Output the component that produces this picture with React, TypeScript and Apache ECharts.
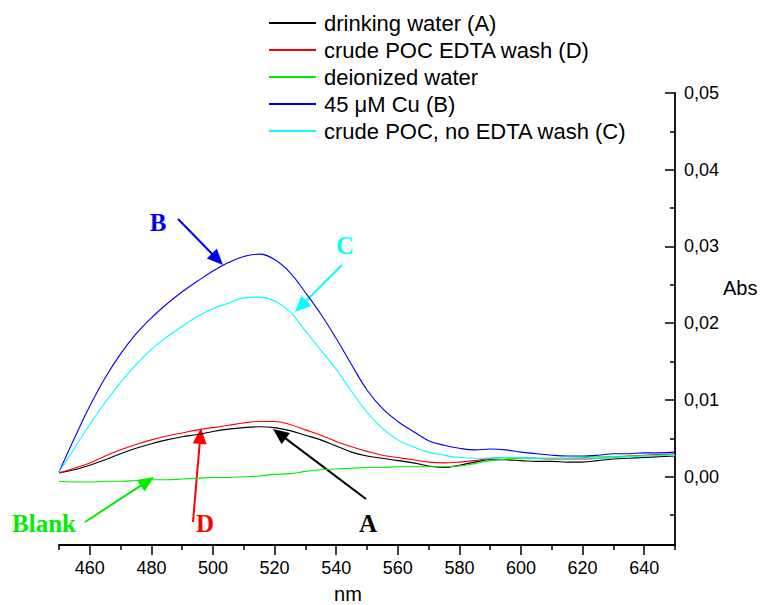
import React, { useEffect, useRef } from "react";
import * as echarts from "echarts";

const wavelengths = [450, 455, 460, 465, 470, 475, 480, 485, 490, 495, 500, 505, 510, 515, 520, 525, 530, 535, 540, 545, 550, 555, 560, 565, 570, 575, 580, 585, 590, 595, 600, 605, 610, 615, 620, 625, 630, 635, 640, 645, 650];

const drinkingA = [0.0005, 0.0009, 0.0015, 0.0022, 0.0030, 0.0037, 0.0043, 0.0048, 0.0052, 0.0055, 0.0059, 0.0062, 0.0064, 0.0065, 0.0064, 0.0060, 0.0054, 0.0048, 0.0040, 0.0032, 0.0027, 0.0024, 0.0021, 0.0018, 0.0014, 0.0012, 0.0015, 0.0019, 0.0022, 0.0022, 0.0021, 0.0020, 0.0020, 0.0019, 0.0019, 0.0021, 0.0023, 0.0024, 0.0025, 0.0026, 0.0027];

const edtaD = [0.0005, 0.0011, 0.0018, 0.0027, 0.0035, 0.0042, 0.0048, 0.0053, 0.0057, 0.0061, 0.0064, 0.0067, 0.0070, 0.0072, 0.0072, 0.0068, 0.0061, 0.0054, 0.0046, 0.0039, 0.0033, 0.0028, 0.0025, 0.0022, 0.0019, 0.0018, 0.0019, 0.0021, 0.0024, 0.0025, 0.0025, 0.0024, 0.0023, 0.0023, 0.0023, 0.0024, 0.0025, 0.0027, 0.0028, 0.0029, 0.0030];

const deionized = [-0.0006, -0.0007, -0.0007, -0.0006, -0.0006, -0.0005, -0.0004, -0.0004, -0.0003, -0.0002, -0.0001, -0.0001, 0.0000, 0.0001, 0.0003, 0.0004, 0.0007, 0.0009, 0.0010, 0.0011, 0.0012, 0.0012, 0.0013, 0.0013, 0.0013, 0.0013, 0.0014, 0.0017, 0.0021, 0.0023, 0.0024, 0.0024, 0.0024, 0.0024, 0.0025, 0.0026, 0.0026, 0.0027, 0.0027, 0.0028, 0.0028];

const copperB = [0.0006, 0.0050, 0.0092, 0.0129, 0.0160, 0.0186, 0.0207, 0.0225, 0.0241, 0.0255, 0.0268, 0.0279, 0.0287, 0.0290, 0.0283, 0.0266, 0.0240, 0.0212, 0.0180, 0.0146, 0.0113, 0.0089, 0.0072, 0.0059, 0.0047, 0.0041, 0.0037, 0.0035, 0.0036, 0.0035, 0.0032, 0.0030, 0.0028, 0.0027, 0.0027, 0.0028, 0.0030, 0.0030, 0.0031, 0.0031, 0.0032];

const noEdtaC = [0.0006, 0.0037, 0.0068, 0.0097, 0.0123, 0.0146, 0.0166, 0.0182, 0.0196, 0.0209, 0.0219, 0.0226, 0.0233, 0.0234, 0.0229, 0.0215, 0.0190, 0.0165, 0.0140, 0.0111, 0.0084, 0.0063, 0.0048, 0.0039, 0.0032, 0.0028, 0.0025, 0.0024, 0.0024, 0.0025, 0.0025, 0.0024, 0.0024, 0.0024, 0.0024, 0.0024, 0.0025, 0.0026, 0.0027, 0.0028, 0.0028];

const seriesNames = ["drinking water (A)", "crude POC EDTA wash (D)", "deionized water", "45 \u03bcM Cu (B)", "crude POC, no EDTA wash (C)"];
const seriesValues = [drinkingA, edtaD, deionized, copperB, noEdtaC];
const seriesColors = ["#000000", "#ff0000", "#00ee00", "#0000ee", "#00ffff"];

const xMajorTicks = [460, 480, 500, 520, 540, 560, 580, 600, 620, 640];
const xMinorTicks = [450, 470, 490, 510, 530, 550, 570, 590, 610, 630, 650];
const yMajorTicks = [0, 0.01, 0.02, 0.03, 0.04, 0.05];
const yMinorTicks = [-0.005, 0.005, 0.015, 0.025, 0.035, 0.045];

const SANS = "Liberation Sans, Arial, sans-serif";
const SERIF = "Liberation Serif, Times New Roman, serif";

function arrow(x1: number, y1: number, x2: number, y2: number, color: string) {
  const L = 16;
  const W = 14;
  const dx = x2 - x1;
  const dy = y2 - y1;
  const len = Math.sqrt(dx * dx + dy * dy);
  const ux = dx / len;
  const uy = dy / len;
  const bx = x2 - ux * L;
  const by = y2 - uy * L;
  const px = -uy;
  const py = ux;
  return [
    {
      type: "line",
      shape: { x1, y1, x2: bx + ux * 2, y2: by + uy * 2 },
      style: { stroke: color, lineWidth: 2 },
      silent: true,
    },
    {
      type: "polygon",
      shape: {
        points: [
          [x2, y2],
          [bx + (px * W) / 2, by + (py * W) / 2],
          [bx - (px * W) / 2, by - (py * W) / 2],
        ],
      },
      style: { fill: color },
      silent: true,
    },
  ];
}

function letter(text: string, x: number, y: number, color: string) {
  return {
    type: "text",
    x,
    y,
    style: {
      text,
      fill: color,
      font: `bold 25px ${SERIF}`,
      align: "center",
      verticalAlign: "middle",
    },
    silent: true,
  };
}

export default function App() {
  const ref = useRef<HTMLDivElement>(null);
  useEffect(() => {
    if (!ref.current) return;
    const chart = echarts.init(ref.current, null, { renderer: "svg" });
    const yMin = -0.0089;
    const yMax = 0.05;
    const option: any = {
      animation: false,
      backgroundColor: "#ffffff",
      grid: { left: 59, right: 88, top: 93, bottom: 60, containLabel: false },
      legend: {
        orient: "vertical",
        left: 268,
        top: 12,
        padding: 0,
        itemWidth: 47,
        itemHeight: 14,
        itemGap: 5,
        itemStyle: { opacity: 0 },
        textStyle: { fontFamily: SANS, fontSize: 22, color: "#000", lineHeight: 22, padding: [0, 0, 0, 3] },
        data: seriesNames,
      },
      xAxis: [
        {
          type: "value",
          min: 450,
          max: 650,
          position: "bottom",
          axisLine: { show: true, onZero: false, lineStyle: { color: "#000", width: 1.8 } },
          axisTick: { show: true, inside: false, length: 10, customValues: xMajorTicks, lineStyle: { color: "#000", width: 1.5 } },
          axisLabel: { show: true, customValues: xMajorTicks, margin: 14, fontFamily: SANS, fontSize: 18, color: "#000" },
          splitLine: { show: false },
        },
        {
          type: "value",
          min: 450,
          max: 650,
          position: "bottom",
          axisLine: { show: false, onZero: false },
          axisTick: { show: true, inside: false, length: 5, customValues: xMinorTicks, lineStyle: { color: "#000", width: 1.5 } },
          axisLabel: { show: false },
          splitLine: { show: false },
        },
      ],
      yAxis: [
        {
          type: "value",
          min: yMin,
          max: yMax,
          position: "right",
          axisLine: { show: true, onZero: false, lineStyle: { color: "#000", width: 1.8 } },
          axisTick: { show: true, inside: true, length: 10, customValues: yMajorTicks, lineStyle: { color: "#000", width: 1.5 } },
          axisLabel: {
            show: true,
            customValues: yMajorTicks,
            margin: 9,
            fontFamily: SANS,
            fontSize: 18,
            color: "#000",
            formatter: (v: number) => v.toFixed(2).replace(".", ","),
          },
          splitLine: { show: false },
        },
        {
          type: "value",
          min: yMin,
          max: yMax,
          position: "right",
          axisLine: { show: false, onZero: false },
          axisTick: { show: true, inside: true, length: 5, customValues: yMinorTicks, lineStyle: { color: "#000", width: 1.5 } },
          axisLabel: { show: false },
          splitLine: { show: false },
        },
      ],
      series: seriesNames.map((name, i) => ({
        name,
        type: "line",
        xAxisIndex: 0,
        yAxisIndex: 0,
        symbol: "none",
        smooth: 0.4,
        color: seriesColors[i],
        lineStyle: { color: seriesColors[i], width: 1.1 },
        data: wavelengths.map((w, j) => [w, seriesValues[i][j]]),
      })),
      graphic: [
        ...arrow(178, 219, 223, 265, "#0000ee"),
        ...arrow(342, 265, 295, 312, "#00ffff"),
        ...arrow(193, 522, 201, 428, "#ff0000"),
        ...arrow(366, 499, 273, 429, "#000000"),
        ...arrow(85, 522, 154, 477, "#00ee00"),
        letter("B", 158, 222, "#0000ee"),
        letter("C", 345, 245, "#00ffff"),
        letter("Blank", 44, 523, "#00ee00"),
        letter("D", 205, 523, "#ff0000"),
        letter("A", 368, 523, "#000000"),
        {
          type: "text",
          x: 723,
          y: 288,
          style: { text: "Abs", fill: "#000", font: `20px ${SANS}`, align: "left", verticalAlign: "middle" },
          silent: true,
        },
        {
          type: "text",
          x: 348,
          y: 594,
          style: { text: "nm", fill: "#000", font: `20px ${SANS}`, align: "center", verticalAlign: "middle" },
          silent: true,
        },
      ],
    };
    chart.setOption(option);
    return () => chart.dispose();
  }, []);
  return <div ref={ref} style={{ position: "absolute", left: 0, top: 0, width: 763, height: 605 }} />;
}
